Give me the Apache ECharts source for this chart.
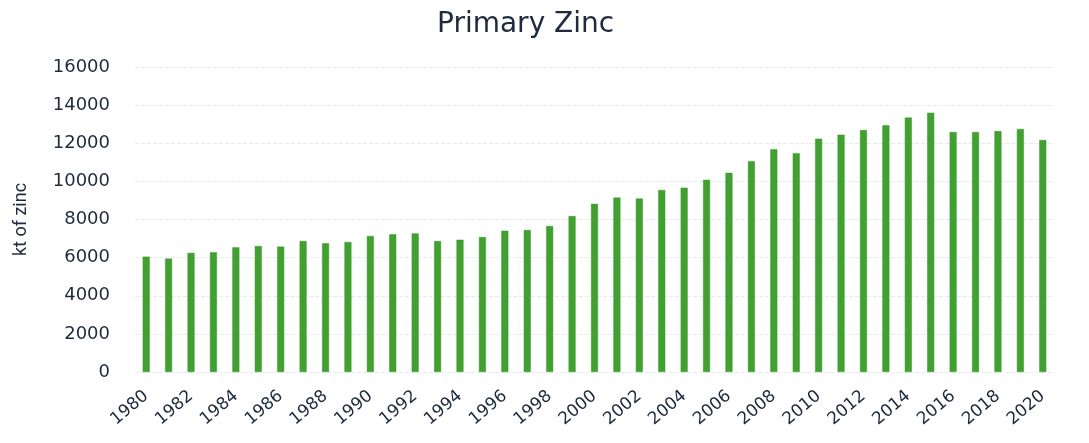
<!DOCTYPE html>
<html lang="en" style="height: 100%">
<head>
  <meta charset="utf-8">
  <style>
    body { margin: 0; background: #fff; }
  </style>
</head>
<body style="height: 100%; margin: 0">
  <div id="container" style="width: 1089px; height: 443px"></div>
  <script src="https://cdn.jsdelivr.net/npm/echarts@6/dist/echarts.min.js"></script>
  <script>
    var years = [];
    for (var y = 1980; y <= 2020; y++) years.push(String(y));

    // primary zinc production, kt
    var zinc = [
      6050, 5950, 6250, 6280, 6540, 6610, 6580, 6870, 6750, 6820,
      7140, 7220, 7270, 6870, 6940, 7080, 7410, 7450, 7660, 8180,
      8820, 9150, 9100, 9550, 9670, 10080, 10450, 11050, 11690, 11480,
      12240, 12450, 12690, 12940, 13350, 13600, 12590, 12590, 12640, 12750,
      12170
    ];

    var textColor = '#1f2b3c';
    var myChart = echarts.init(document.getElementById('container'), null, { renderer: 'canvas' });

    var option = {
      animation: false,
      title: {
        text: 'Primary Zinc',
        left: 432,
        top: 6,
        textStyle: { fontFamily: 'DejaVu Sans', fontSize: 28, fontWeight: 'normal', color: textColor }
      },
      grid: { left: 135, right: 35, top: 67, bottom: 71 },
      xAxis: {
        type: 'category',
        data: years,
        axisLine: { show: false },
        axisTick: { show: false },
        axisLabel: {
          interval: 1,
          rotate: 40,
          margin: 22,
          fontFamily: 'DejaVu Sans',
          fontSize: 17,
          color: textColor
        }
      },
      yAxis: {
        type: 'value',
        min: 0,
        max: 16000,
        interval: 2000,
        name: 'kt of zinc',
        nameLocation: 'middle',
        nameGap: 105,
        nameTextStyle: { fontFamily: 'Roboto', fontSize: 18, color: textColor },
        axisLabel: {
          fontFamily: 'DejaVu Sans',
          fontSize: 18,
          color: textColor,
          margin: 25,
          formatter: function (v) { return String(v); }
        },
        splitLine: { lineStyle: { color: '#e3ebf0', type: 'dashed', width: 1 } }
      },
      series: [{
        type: 'bar',
        data: zinc,
        barWidth: 7,
        itemStyle: { color: '#41a030', borderColor: '#389a2c', borderWidth: 0.5 }
      }]
    };

    myChart.setOption(option);
    window.addEventListener('resize', myChart.resize);
  </script>
</body>
</html>
